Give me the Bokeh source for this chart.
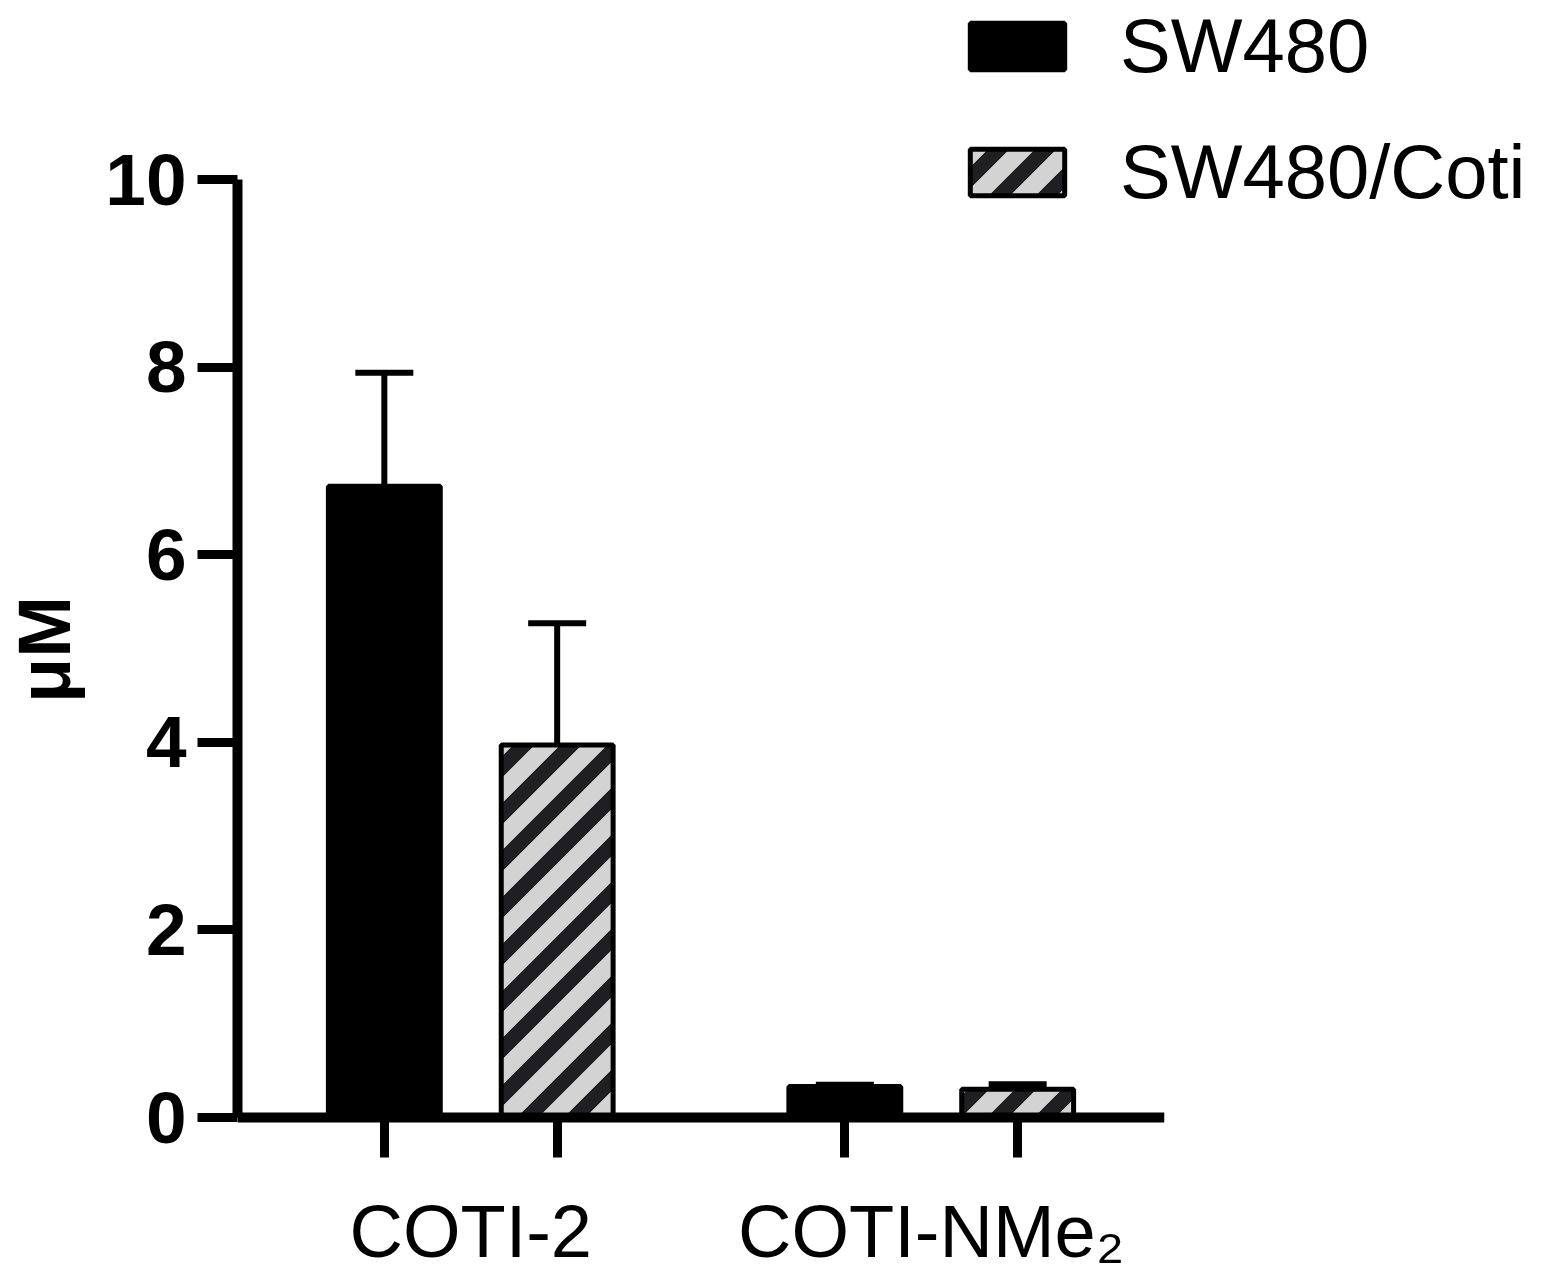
import zlib, struct, base64
from bokeh.plotting import figure
from bokeh.layouts import row
from bokeh.models import (FactorRange, Range1d, ColumnDataSource, Whisker, TeeHead,
                          Legend, LegendItem, FixedTicker, ImageURLTexture)
from bokeh.core.properties import value
from bokeh.embed import file_html
from bokeh.resources import INLINE

# ---- data ----
groups = ["COTI-2", "COTI-NMe₂"]
series = ["SW480", "SW480/Coti"]
sw480_vals = [6.73, 0.33]
sw480_err = [1.21, 0.02]
coti_vals = [3.97, 0.30]
coti_err = [1.30, 0.055]
y_ticks = [0, 2, 4, 6, 8, 10]
y_label = "μM"

FONT = "Liberation Sans"
W, H = 1540, 1288
PX_PER_UNIT = 93.8
FRAME_TOP, ZERO_Y = 10, 1117          # layout: frame top and position of the 0 line (px)
Y_END = max(y_ticks) + (179 - FRAME_TOP) / PX_PER_UNIT
Y_START = -(H - ZERO_Y) / PX_PER_UNIT


# ---- 45-degree stripe texture (style only) ----
def stripe_png(size=47, band=15.0, rgb=(31, 31, 35)):
    d = band * (2 ** 0.5) / 2.0
    raw = bytearray()
    for y in range(size):
        raw.append(0)
        for x in range(size):
            s = x + y + 1.0
            dist = min(abs(s - k * size) for k in (0, 1, 2))
            a = max(0.0, min(1.0, d + 0.5 - dist))
            raw += bytes([rgb[0], rgb[1], rgb[2], int(round(a * 255))])

    def chunk(t, data):
        c = struct.pack(">I", len(data)) + t + data
        return c + struct.pack(">I", zlib.crc32(t + data) & 0xFFFFFFFF)

    png = (b"\x89PNG\r\n\x1a\n"
           + chunk(b"IHDR", struct.pack(">IIBBBBB", size, size, 8, 6, 0, 0, 0))
           + chunk(b"IDAT", zlib.compress(bytes(raw)))
           + chunk(b"IEND", b""))
    return "data:image/png;base64," + base64.b64encode(png).decode()


STRIPES = stripe_png()
HATCH = dict(fill_color="#d3d3d3", line_color="black", line_width=5,
             hatch_pattern=value("diag"),
             hatch_extra={"diag": ImageURLTexture(url=STRIPES)})
SOLID = dict(fill_color="black", line_color="black", line_width=5)

factors = [(g, s) for g in groups for s in series]
x_range = FactorRange(*factors, factor_padding=0.236, group_padding=1.057,
                      range_padding=0.55, range_padding_units="absolute")
y_range = Range1d(Y_START, Y_END)

p = figure(width=W, height=H, title_location=None, x_range=x_range, y_range=y_range,
           output_backend="svg", toolbar_location=None,
           min_border_left=236, min_border_right=376,
           min_border_top=FRAME_TOP, min_border_bottom=0)
p.outline_line_color = None
p.xgrid.grid_line_color = None
p.ygrid.grid_line_color = None
p.background_fill_color = "white"
p.border_fill_color = "white"

src1 = ColumnDataSource(dict(x=[(g, series[0]) for g in groups], top=sw480_vals,
                             upper=[v + e for v, e in zip(sw480_vals, sw480_err)]))
src2 = ColumnDataSource(dict(x=[(g, series[1]) for g in groups], top=coti_vals,
                             upper=[v + e for v, e in zip(coti_vals, coti_err)]))

r1 = p.vbar(x="x", top="top", bottom=0, width=0.8, source=src1, **SOLID)
r2 = p.vbar(x="x", top="top", bottom=0, width=0.8, source=src2, **HATCH)

for s in (src1, src2):
    p.add_layout(Whisker(source=s, base="x", lower="top", upper="upper", dimension="height",
                         line_color="black", line_width=6, lower_head=None,
                         upper_head=TeeHead(size=58, line_width=6, line_color="black")))

# y axis (drawn only from 0 to 10)
ya = p.yaxis[0]
ya.ticker = FixedTicker(ticks=y_ticks)
ya.bounds = (min(y_ticks), max(y_ticks))
ya.axis_line_width = 10
ya.major_tick_line_width = 9
ya.major_tick_out = 40
ya.major_tick_in = 0
ya.minor_tick_line_color = None
ya.major_label_standoff = 11
ya.major_label_text_font = FONT
ya.major_label_text_font_style = "bold"
ya.major_label_text_font_size = "73px"
ya.major_label_text_color = "black"
ya.axis_label = y_label
ya.axis_label_text_font = FONT
ya.axis_label_text_font_style = "bold"
ya.axis_label_text_font_size = "74px"
ya.axis_label_text_color = "black"
ya.axis_label_standoff = 16

# x axis at y = 0: a tick under every bar, group names as labels
xa = p.xaxis[0]
xa.fixed_location = 0
xa.axis_line_width = 10
xa.major_tick_line_width = 9
xa.major_tick_out = 40
xa.major_tick_in = 0
xa.minor_tick_line_color = None
xa.major_label_text_color = None
xa.major_label_text_font_size = "1px"
xa.major_label_standoff = 32
xa.group_text_font = FONT
xa.group_text_font_size = "74px"
xa.group_text_font_style = "normal"
xa.group_text_color = "black"
xa.group_label_orientation = "horizontal"
if hasattr(xa, "separator_line_color"):
    xa.separator_line_color = None

# ---- legend, drawn on a transparent layer laid over the chart ----
lf = figure(width=W, height=H, x_range=x_range, y_range=y_range,
            x_axis_type=None, y_axis_type=None, title_location=None,
            output_backend="svg", toolbar_location=None,
            min_border_left=0, min_border_right=0,
            min_border_top=0, min_border_bottom=0,
            margin=(0, 0, 0, -W))
lf.outline_line_color = None
lf.background_fill_color = None
lf.border_fill_color = None
k1 = lf.vbar(x="x", top="top", bottom=0, width=0.8, source=src1, visible=False, **SOLID)
k2 = lf.vbar(x="x", top="top", bottom=0, width=0.8, source=src2, visible=False, **HATCH)

lf.add_layout(Legend(items=[LegendItem(label=series[0], renderers=[k1]),
                            LegendItem(label=series[1], renderers=[k2])],
                     location=(958, 1073), orientation="vertical",
                     glyph_width=118, glyph_height=58, label_standoff=44,
                     padding=0, margin=0, spacing=39,
                     label_text_font=FONT, label_text_font_size="76px",
                     label_text_color="black",
                     inactive_fill_alpha=0,
                     border_line_color=None, background_fill_alpha=0))

layout = row(p, lf)
open("out.html", "w").write(file_html(layout, INLINE))
